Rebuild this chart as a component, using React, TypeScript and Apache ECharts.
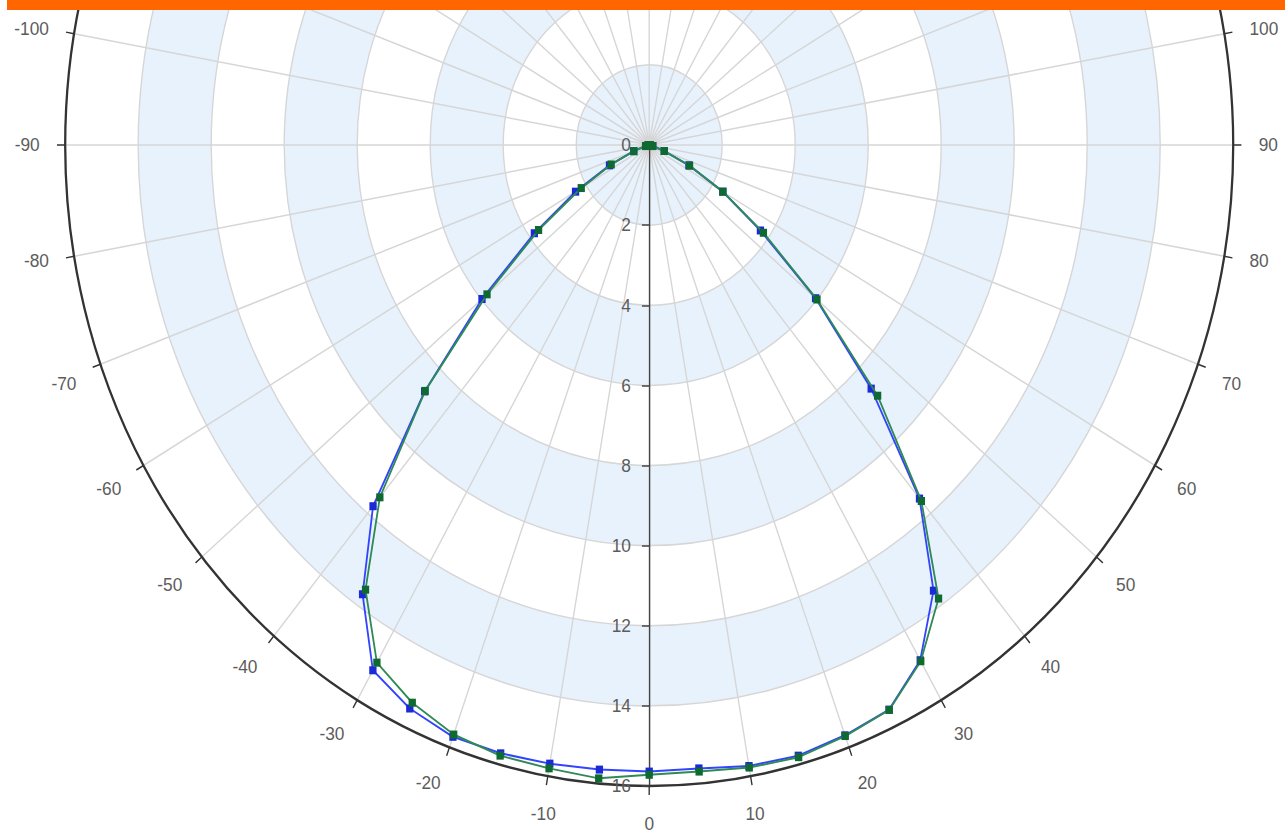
import React, { useEffect, useRef } from 'react';
import * as echarts from 'echarts';

// Measurement angles in degrees (0 = straight down, positive to the right)
const angles = [
  -90, -85, -80, -75, -70, -65, -60, -55, -50, -45, -40, -35, -30, -25, -20, -15, -10, -5,
  0, 5, 10, 15, 20, 25, 30, 35, 40, 45, 50, 55, 60, 65, 70, 75, 80, 85, 90,
];

// Intensity curve drawn in blue
const blueValues = [
  0, 0, 0.03, 0.1, 0.45, 1.2, 2.33, 3.84, 5.98, 8.7, 11.77, 13.69, 15.14, 15.52, 15.72, 15.72, 15.68, 15.65,
  15.64, 15.62, 15.74, 15.78, 15.68, 15.55, 14.85, 13.58, 11.52, 8.6, 5.95, 3.72, 2.33, 1.2, 0.44, 0.1, 0.03, 0, 0,
];

// Intensity curve drawn in green
const greenValues = [
  0, 0, 0.03, 0.1, 0.45, 1.15, 2.15, 3.7, 5.8, 8.68, 11.48, 13.55, 14.92, 15.36, 15.66, 15.78, 15.8, 15.87,
  15.72, 15.7, 15.78, 15.82, 15.7, 15.56, 14.88, 13.82, 11.6, 8.85, 6.0, 3.82, 2.33, 1.22, 0.44, 0.1, 0.03, 0, 0,
];

const radiusMax = 16;
const radiusStep = 2;
const angleStep = 10;
const angleLabelLimit = 100;

// The plot is drawn as a circle, then squeezed horizontally into an ellipse
const SCALE_X = 0.9111;
const PAGE_W = 1285;
const PAGE_H = 836;
const CENTER_X = 649.2;
const CENTER_Y = 145;
const RADIUS = 641;

const toAxisAngle = (a: number) => (a + 360) % 360;

export default function App() {
  const ref = useRef<HTMLDivElement>(null);

  useEffect(() => {
    const chart = echarts.init(ref.current!, null, { renderer: 'svg' });
    const pairs = (vals: number[]) => angles.map((a, i) => [vals[i], toAxisAngle(a)]);
    const labelFont = { color: '#5c5c5c', fontSize: 19, fontFamily: 'Liberation Sans, Arial, sans-serif' };
    const gridLine = { color: '#d6d6d6', width: 1.5 };
    const polarBox = { center: [CENTER_X / SCALE_X, CENTER_Y], radius: RADIUS };
    const angleBase = {
      type: 'value',
      min: 0,
      max: 360,
      interval: angleStep,
      startAngle: 270,
      clockwise: false,
    };
    const radiusBase = { type: 'value', min: 0, max: radiusMax, interval: radiusStep };

    chart.setOption({
      animation: false,
      backgroundColor: '#ffffff',
      // second polar system only carries the ring outlines above the shaded bands
      polar: [polarBox, polarBox],
      angleAxis: [
        {
          ...angleBase,
          polarIndex: 0,
          axisLine: { show: true, lineStyle: { color: '#333333', width: 2.5 } },
          axisTick: { show: true, length: 9, lineStyle: { color: '#333333', width: 1.5 } },
          axisLabel: {
            ...labelFont,
            margin: 28,
            formatter: (v: number) => {
              const a = v > 180 ? v - 360 : v;
              return Math.abs(a) > angleLabelLimit || v === 360 ? '' : String(a);
            },
          },
          splitLine: { show: true, lineStyle: gridLine },
        },
        {
          ...angleBase,
          polarIndex: 1,
          axisLine: { show: false },
          axisTick: { show: false },
          axisLabel: { show: false },
          splitLine: { show: false },
        },
      ],
      radiusAxis: [
        {
          ...radiusBase,
          polarIndex: 0,
          axisLine: { show: false },
          axisTick: { show: false },
          axisLabel: { show: false },
          splitLine: { show: false },
          splitArea: { show: true, areaStyle: { color: ['#e8f2fc', '#ffffff'] } },
        },
        {
          ...radiusBase,
          polarIndex: 1,
          axisLine: { show: true, lineStyle: { color: '#444444', width: 1.5 } },
          axisTick: { show: true, length: -8, lineStyle: { color: '#444444', width: 1.5 } },
          axisLabel: { ...labelFont, margin: -20, align: 'right' },
          splitLine: { show: true, lineStyle: gridLine },
          splitArea: { show: false },
        },
      ],
      series: [
        {
          type: 'line',
          coordinateSystem: 'polar',
          polarIndex: 0,
          data: pairs(blueValues),
          symbol: 'rect',
          symbolSize: 8,
          lineStyle: { color: '#3344ff', width: 2 },
          itemStyle: { color: '#1a2ad6' },
          z: 3,
        },
        {
          type: 'line',
          coordinateSystem: 'polar',
          polarIndex: 0,
          data: pairs(greenValues),
          symbol: 'rect',
          symbolSize: 8,
          lineStyle: { color: '#2f8a55', width: 2 },
          itemStyle: { color: '#0f6a32' },
          z: 4,
        },
      ],
    });

    return () => chart.dispose();
  }, []);

  return (
    <div
      style={{
        position: 'absolute',
        left: 0,
        top: 0,
        width: PAGE_W,
        height: PAGE_H,
        overflow: 'hidden',
        background: '#ffffff',
      }}
    >
      <div
        ref={ref}
        style={{
          position: 'absolute',
          left: 0,
          top: 0,
          width: PAGE_W / SCALE_X,
          height: PAGE_H,
          transform: `scaleX(${SCALE_X})`,
          transformOrigin: '0 0',
        }}
      />
      <div
        style={{
          position: 'absolute',
          left: 7,
          top: 0,
          width: PAGE_W - 7,
          height: 10,
          background: '#ff6600',
        }}
      />
    </div>
  );
}
